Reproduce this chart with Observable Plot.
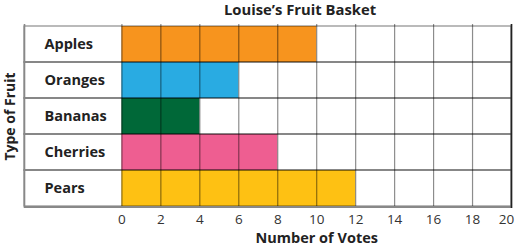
<!DOCTYPE html>
<html><head><meta charset="utf-8">
<script src="https://cdn.jsdelivr.net/npm/d3@7"></script>
<script src="https://cdn.jsdelivr.net/npm/@observablehq/plot@0.6"></script>
<style>
body{margin:0;background:#fff;font-family:"Open Sans",sans-serif;}
#title{width:516px;box-sizing:border-box;padding-left:84px;text-align:center;font-weight:bold;font-size:14.8px;line-height:18px;height:18px;color:#222;}
</style></head>
<body>
<div id="title">Louise’s Fruit Basket</div>
<div id="chart"></div>
<script>
const fruits = ["Apples", "Oranges", "Bananas", "Cherries", "Pears"];
const votes = [10, 6, 4, 8, 12];
const colors = ["#F7941E", "#29ABE2", "#006838", "#EE5E91", "#FEC113"];
const xTicks = [0, 2, 4, 6, 8, 10, 12, 14, 16, 18, 20];
const data = fruits.map((f, i) => ({fruit: f, votes: votes[i], color: colors[i]}));
const labelStart = -5;
const xMax = 20;
const plot = Plot.plot({
  width: 516,
  height: 232,
  marginTop: 6,
  marginBottom: 42,
  marginLeft: 24,
  marginRight: 5,
  style: {fontFamily: "Open Sans", fontSize: "14px", color: "#333"},
  x: {domain: [labelStart, xMax], axis: null},
  y: {domain: fruits, padding: 0, axis: null},
  marks: [
    Plot.barX(data, {x: "votes", y: "fruit", fill: "color"}),
    Plot.barX(fruits, {x1: labelStart, x2: xMax, y: d => d, fill: "none", stroke: "#000", strokeOpacity: 0.45, strokeWidth: 1.2}),
    Plot.ruleX(xTicks, {stroke: "#000", strokeOpacity: 0.45, strokeWidth: 1.2}),
    Plot.ruleX([labelStart], {stroke: "#888", strokeWidth: 1.6}),
    Plot.ruleY([fruits[fruits.length - 1]], {y: d => d, dy: 18.4, x1: labelStart, x2: xMax, stroke: "#888", strokeWidth: 2}),
    Plot.ruleX([xMax], {stroke: "#222", strokeWidth: 1.6}),
    Plot.text(fruits, {x: labelStart, y: d => d, dx: 20, textAnchor: "start", fontWeight: "bold", fontSize: 14.5, fill: "#222"}),
    Plot.axisX(xTicks.slice(0, -1), {tickSize: 0, tickPadding: 6, fontSize: 13.5, label: null, fill: "#333"}),
    Plot.axisX(xTicks.slice(-1), {tickSize: 0, tickPadding: 6, fontSize: 13.5, label: null, fill: "#333", dx: -5}),
    Plot.text(["Number of Votes"], {x: d3.mean(d3.extent(xTicks)), frameAnchor: "bottom", dy: 34, fontWeight: "bold", fontSize: 14.5, fill: "#222"}),
    Plot.text(["Type of Fruit"], {frameAnchor: "left", textAnchor: "middle", rotate: -90, dx: -14, dy: 0, fontWeight: "bold", fontSize: 14, fill: "#222"})
  ]
});
document.getElementById("chart").appendChild(plot);
</script>
</body></html>
